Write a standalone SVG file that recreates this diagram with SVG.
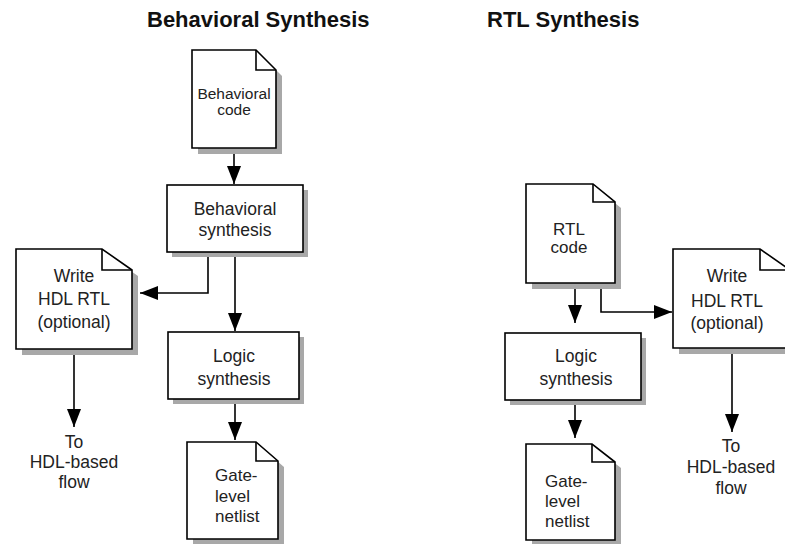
<svg xmlns="http://www.w3.org/2000/svg" width="785" height="544" viewBox="0 0 785 544">
<defs>
<style>
.shape{fill:#fff;stroke:#000;stroke-width:1.6}
.fold{fill:none;stroke:#000;stroke-width:1.6;stroke-linejoin:miter}
.shadow{fill:#a8a8a8;stroke:none}
.t{font-family:"Liberation Sans",Arial,sans-serif;font-size:17.5px;fill:#222;text-anchor:middle}
.tl{font-family:"Liberation Sans",Arial,sans-serif;font-size:17px;fill:#222}
.title{font-family:"Liberation Sans",Arial,sans-serif;font-size:22px;font-weight:bold;fill:#111}
.conn{fill:none;stroke:#000;stroke-width:1.6}
</style>
<marker id="ah" markerUnits="userSpaceOnUse" markerWidth="20" markerHeight="14" refX="18" refY="7" orient="auto">
<path d="M0,0 L18,7 L0,14 z" fill="#000"/>
</marker>
</defs>
<rect width="785" height="544" fill="#fff"/>

<g id="titles">
<text class="title" x="147" y="27">Behavioral Synthesis</text>
<text class="title" x="487" y="27">RTL Synthesis</text>
</g>

<g id="connectors">
<path class="conn" d="M234,148 V184" marker-end="url(#ah)"/>
<path class="conn" d="M208,252 V293 H140" marker-end="url(#ah)"/>
<path class="conn" d="M235,252 V331" marker-end="url(#ah)"/>
<path class="conn" d="M235,399 V440" marker-end="url(#ah)"/>
<path class="conn" d="M74,349 V427" marker-end="url(#ah)"/>
<path class="conn" d="M575,283 V323" marker-end="url(#ah)"/>
<path class="conn" d="M601,283 V312 H672" marker-end="url(#ah)"/>
<path class="conn" d="M575,400 V438" marker-end="url(#ah)"/>
<path class="conn" d="M732,348 V432" marker-end="url(#ah)"/>
</g>

<g id="behavioral-code">
<path class="shadow" d="M198,56 H262 L282,76 V154 H198 Z"/>
<path class="shape" d="M192,50 H256 L276,70 V148 H192 Z"/>
<path class="fold" d="M256,50 V70 H276"/>
<text class="t" x="234" y="99" style="font-size:15.5px">Behavioral</text>
<text class="t" x="234" y="115" style="font-size:15.5px">code</text>
</g>

<g id="behavioral-synthesis">
<rect class="shadow" x="172" y="190" width="136" height="67"/>
<rect class="shape" x="167" y="185" width="136" height="67"/>
<text class="t" x="235" y="215">Behavioral</text>
<text class="t" x="235" y="236">synthesis</text>
</g>

<g id="write-hdl-left">
<path class="shadow" d="M22,255 H108 L138,276 V355 H22 Z"/>
<path class="shape" d="M16,249 H102 L132,270 V349 H16 Z"/>
<path class="fold" d="M102,249 V270 H132"/>
<text class="t" x="74" y="282">Write</text>
<text class="t" x="74" y="305">HDL RTL</text>
<text class="t" x="74" y="328">(optional)</text>
</g>

<g id="to-hdl-left">
<text class="t" x="74" y="448">To</text>
<text class="t" x="74" y="468">HDL-based</text>
<text class="t" x="74" y="488">flow</text>
</g>

<g id="logic-synthesis-left">
<rect class="shadow" x="173" y="337" width="131" height="67"/>
<rect class="shape" x="168" y="332" width="131" height="67"/>
<text class="t" x="234" y="362">Logic</text>
<text class="t" x="234" y="385">synthesis</text>
</g>

<g id="gate-level-left">
<path class="shadow" d="M193,448 H262 L284,467 V545 H193 Z"/>
<path class="shape" d="M187,442 H256 L278,461 V539 H187 Z"/>
<path class="fold" d="M256,442 V461 H278"/>
<text class="tl" x="215" y="481">Gate-</text>
<text class="tl" x="215" y="502">level</text>
<text class="tl" x="215" y="522">netlist</text>
</g>

<g id="rtl-code">
<path class="shadow" d="M532,190 H599 L621,208 V289 H532 Z"/>
<path class="shape" d="M526,184 H593 L615,202 V283 H526 Z"/>
<path class="fold" d="M593,184 V202 H615"/>
<text class="t" x="569" y="235" style="font-size:17px">RTL</text>
<text class="t" x="569" y="253" style="font-size:17px">code</text>
</g>

<g id="write-hdl-right">
<path class="shadow" d="M679,255 H766 L796,276 V354 H679 Z"/>
<path class="shape" d="M673,249 H760 L790,270 V348 H673 Z"/>
<path class="fold" d="M760,249 V270 H790"/>
<text class="t" x="727" y="282">Write</text>
<text class="t" x="727" y="307">HDL RTL</text>
<text class="t" x="727" y="329">(optional)</text>
</g>

<g id="logic-synthesis-right">
<rect class="shadow" x="510" y="338" width="136" height="67"/>
<rect class="shape" x="505" y="333" width="136" height="67"/>
<text class="t" x="576" y="362">Logic</text>
<text class="t" x="576" y="385">synthesis</text>
</g>

<g id="gate-level-right">
<path class="shadow" d="M532,450 H598 L621,468 V546 H532 Z"/>
<path class="shape" d="M526,444 H592 L615,462 V540 H526 Z"/>
<path class="fold" d="M592,444 V462 H615"/>
<text class="tl" x="545" y="487">Gate-</text>
<text class="tl" x="545" y="507">level</text>
<text class="tl" x="545" y="527">netlist</text>
</g>

<g id="to-hdl-right">
<text class="t" x="731" y="452">To</text>
<text class="t" x="731" y="473">HDL-based</text>
<text class="t" x="731" y="494">flow</text>
</g>
</svg>
